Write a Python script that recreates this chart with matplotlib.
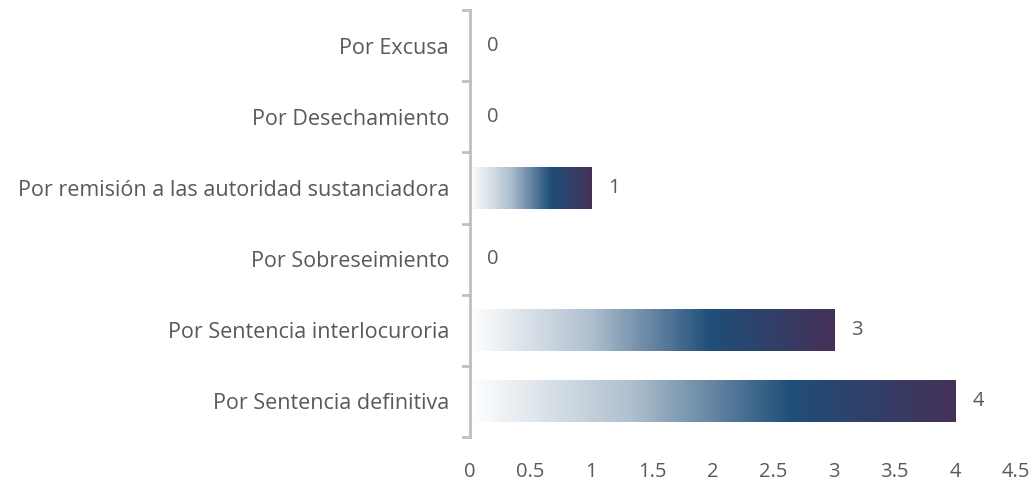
import numpy as np
import matplotlib
matplotlib.use("Agg")
import matplotlib.pyplot as plt
from matplotlib.colors import LinearSegmentedColormap

categories = [
    "Por Sentencia definitiva",
    "Por Sentencia interlocuroria",
    "Por Sobreseimiento",
    "Por remisión a las autoridad sustanciadora",
    "Por Desechamiento",
    "Por Excusa",
]
values = [4, 3, 0, 1, 0, 0]
x_ticks = [0, 0.5, 1, 1.5, 2, 2.5, 3, 3.5, 4, 4.5]

plt.rcParams['font.family'] = ['Open Sans', 'DejaVu Sans']
text_col = '#595959'
axis_col = '#BFBFBF'

grad = LinearSegmentedColormap.from_list(
    "bar_grad",
    [(0.0, '#FFFFFF'), (0.33, '#AFC0CF'), (0.66, '#1F4E79'), (1.0, '#453158')],
)

fig = plt.figure(figsize=(10.34, 4.82), dpi=100)
ax = fig.add_axes([0.4545, 0.0934, 0.9826 - 0.4545, 0.979 - 0.0934])

bar_h = 0.58
ramp = np.linspace(0, 1, 256).reshape(1, -1)
for i, v in enumerate(values):
    if v > 0:
        ax.imshow(ramp, cmap=grad, aspect='auto', interpolation='bilinear',
                  extent=(0, v, i - bar_h / 2, i + bar_h / 2), zorder=2)
    ax.text(v + 0.14, i, str(v), va='center', ha='left', fontsize=14.5, color=text_col)

ax.set_xlim(0, 4.5)
ax.set_ylim(-0.5, len(categories) - 0.5)
ax.set_xticks(x_ticks)
ax.set_xticklabels([f"{t:g}" for t in x_ticks], fontsize=14.5, color=text_col)
ax.set_yticks(np.arange(len(categories)))
ax.set_yticklabels(categories, fontsize=15.5, color=text_col)
ax.tick_params(axis='y', length=0, pad=15)
ax.tick_params(axis='x', length=0, pad=18)

# boundary tick marks on the category axis
for b in np.arange(-0.5, len(categories), 1.0):
    ax.plot([-0.06, 0], [b, b], color=axis_col, lw=2, clip_on=False, zorder=3)

for s in ['top', 'right', 'bottom']:
    ax.spines[s].set_visible(False)
ax.spines['left'].set_color(axis_col)
ax.spines['left'].set_linewidth(2)

fig.savefig("out.png", dpi=100, facecolor='white')
